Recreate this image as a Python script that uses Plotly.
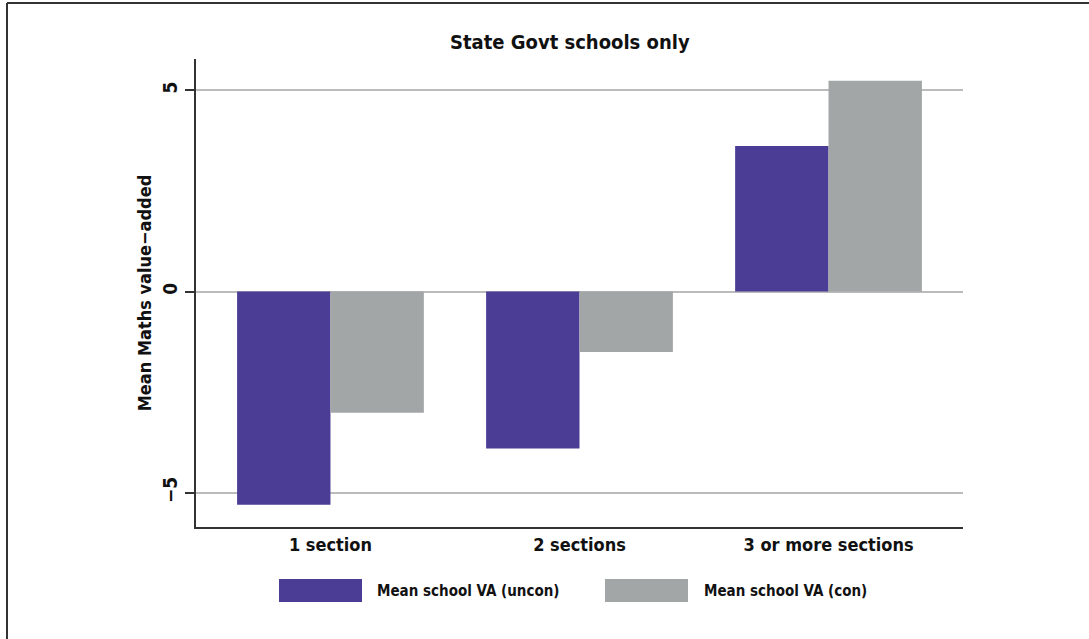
import plotly.graph_objects as go

categories = ["1 section", "2 sections", "3 or more sections"]
va_uncon = [-5.30, -3.90, 3.62]
va_con = [-3.01, -1.50, 5.24]
series_names = ["Mean school VA (uncon)", "Mean school VA (con)"]
y_ticks = [-5, 0, 5]
y_tick_labels = ["\u22125", "0", "5"]

PURPLE = "#4B3C95"
GRAY = "#A3A6A7"
FONT = "Liberation Sans Narrow, DejaVu Sans Condensed, Arial Narrow, sans-serif"

W, H = 1089, 639
L, R, T, B = 196, 963, 59, 527

def px(x):
    return (x - L) / (R - L)

def py(y):
    return (B - y) / (B - T)

fig = go.Figure()
fig.add_trace(go.Bar(x=categories, y=va_uncon, name=series_names[0],
                     marker=dict(color=PURPLE, line=dict(width=0))))
fig.add_trace(go.Bar(x=categories, y=va_con, name=series_names[1],
                     marker=dict(color=GRAY, line=dict(width=0))))

shapes = []
# outer frame (left and top)
shapes.append(dict(type="line", xref="paper", yref="paper",
                   x0=px(7), x1=px(7), y0=py(3), y1=py(H + 2),
                   line=dict(color="#333333", width=2)))
shapes.append(dict(type="line", xref="paper", yref="paper",
                   x0=px(7), x1=px(W + 2), y0=py(3), y1=py(3),
                   line=dict(color="#333333", width=2)))
# legend boxes
shapes.append(dict(type="rect", xref="paper", yref="paper",
                   x0=px(279), x1=px(362), y0=py(579), y1=py(602),
                   fillcolor=PURPLE, line=dict(width=0)))
shapes.append(dict(type="rect", xref="paper", yref="paper",
                   x0=px(605), x1=px(688), y0=py(579), y1=py(602),
                   fillcolor=GRAY, line=dict(width=0)))

annotations = [
    dict(text="State Govt schools only", xref="paper", yref="paper",
         x=px(570), y=py(42), xanchor="center", yanchor="middle", showarrow=False,
         font=dict(family=FONT, size=20, color="#111111", weight="bold")),
    dict(text=series_names[0], xref="paper", yref="paper",
         x=px(375), y=py(590.5), xanchor="left", yanchor="middle", showarrow=False,
         font=dict(family=FONT, size=15, color="#111111", weight="bold")),
    dict(text=series_names[1], xref="paper", yref="paper",
         x=px(702), y=py(590.5), xanchor="left", yanchor="middle", showarrow=False,
         font=dict(family=FONT, size=15, color="#111111", weight="bold")),
]

fig.update_layout(
    width=W, height=H,
    margin=dict(l=L, r=W - R, t=T, b=H - B, autoexpand=False),
    paper_bgcolor="white", plot_bgcolor="white",
    barmode="group", bargap=0.25, bargroupgap=0,
    showlegend=False,
    shapes=shapes, annotations=annotations,
    font=dict(family=FONT, color="#111111"),
)
fig.update_xaxes(
    range=[-0.54, 2.54], showgrid=False, showline=True, linecolor="#333333",
    linewidth=2, ticks="", zeroline=False,
    tickfont=dict(family=FONT, size=18, color="#111111", weight="bold"),
)
fig.update_yaxes(
    range=[-5.85, 5.78], tickvals=y_ticks, ticktext=y_tick_labels,
    tickangle=-90, ticks="outside", ticklen=9, tickwidth=2, tickcolor="#333333",
    showline=True, linecolor="#333333", linewidth=2,
    showgrid=True, gridcolor="#BBBBBB", gridwidth=1.5,
    zeroline=False,
    tickfont=dict(family=FONT, size=19, color="#111111", weight="bold"),
    title=dict(text="Mean Maths value\u2212added",
               font=dict(family=FONT, size=18, color="#111111", weight="bold"),
               standoff=3),
)

fig.write_html("out.html", config={"displayModeBar": False},
               post_script="document.body.style.margin='0';document.body.style.overflow='hidden';")
